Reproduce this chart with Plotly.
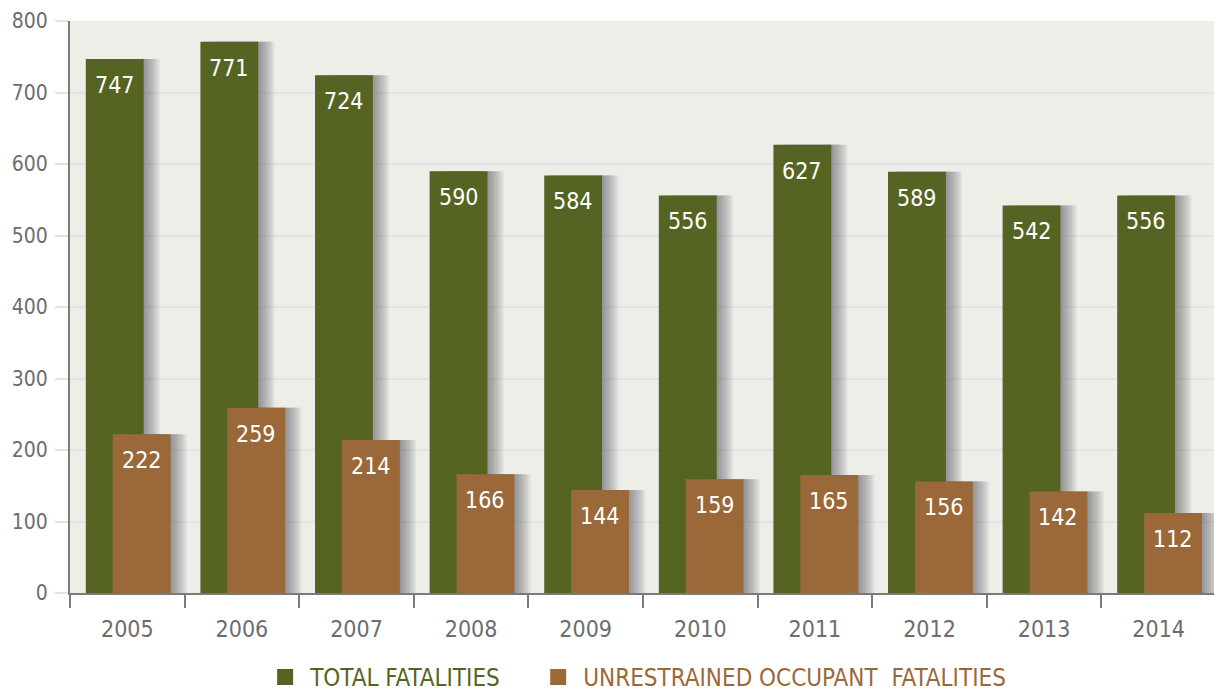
import plotly.graph_objects as go

years = ["2005", "2006", "2007", "2008", "2009", "2010", "2011", "2012", "2013", "2014"]
total = [747, 771, 724, 590, 584, 556, 627, 589, 542, 556]
unrestrained = [222, 259, 214, 166, 144, 159, 165, 156, 142, 112]

GREEN = "#566423"
BROWN = "#9b683a"
FONT = "'Liberation Sans Narrow', 'DejaVu Sans Condensed', Roboto, sans-serif"

FIG_W, FIG_H = 1214, 688   # page body adds an 8px margin
ML, MR, MT, MB = 62, 6, 13, 103

W = 0.505
G_OFF = -0.362
B_OFF = -0.127
CAT_PX = (FIG_W - ML - MR) / 10.0

fig = go.Figure()

def shadow(vals, off):
    for k in range(7):
        fig.add_trace(go.Bar(
            x=years, y=vals, width=W, offset=off + 0.02 * (k + 1),
            marker=dict(color="rgba(70,70,80,0.095)", line_width=0),
            hoverinfo="skip", showlegend=False,
        ))

shadow(total, G_OFF)
fig.add_trace(go.Bar(
    x=years, y=total, width=W, offset=G_OFF, name="TOTAL FATALITIES",
    marker=dict(color=GREEN, line_width=0), showlegend=False,
))
shadow(unrestrained, B_OFF)
fig.add_trace(go.Bar(
    x=years, y=unrestrained, width=W, offset=B_OFF, name="UNRESTRAINED OCCUPANT FATALITIES",
    marker=dict(color=BROWN, line_width=0), showlegend=False,
))

# legend entries
fig.add_trace(go.Scatter(
    x=[None], y=[None], mode="markers",
    marker=dict(symbol="square", size=24, color=GREEN),
    name=f'<span style="color:{GREEN}">TOTAL FATALITIES</span>&nbsp;&nbsp;&nbsp;&nbsp;',
))
fig.add_trace(go.Scatter(
    x=[None], y=[None], mode="markers",
    marker=dict(symbol="square", size=24, color=BROWN),
    name=f'<span style="color:{BROWN}">UNRESTRAINED OCCUPANT&nbsp; FATALITIES</span>',
))

# value labels (category axis positions given as serial numbers)
for vals, off in ((total, G_OFF), (unrestrained, B_OFF)):
    shift = (off + W / 2) * CAT_PX
    for i, v in enumerate(vals):
        fig.add_annotation(
            x=i, y=v, xref="x", yref="y", text=str(v), showarrow=False,
            xshift=shift, yshift=-26, yanchor="middle", xanchor="center",
            font=dict(color="white", size=23, family=FONT),
        )

fig.update_layout(
    width=FIG_W, height=FIG_H,
    barmode="overlay",
    paper_bgcolor="white",
    plot_bgcolor="#edeee8",
    margin=dict(l=ML, r=MR, t=MT, b=MB, autoexpand=False),
    font=dict(family=FONT, color="#6d6d6d", size=23),
    showlegend=True,
    legend=dict(orientation="h", x=0.517, xanchor="center", xref="container",
                y=0.027, yref="container", yanchor="middle",
                font=dict(size=24, family=FONT), itemwidth=40,
                traceorder="normal", itemsizing="trace"),
)
fig.update_xaxes(
    type="category", showgrid=False, showline=True, linecolor="#7a7a7a", linewidth=2,
    ticks="outside", tickson="boundaries", ticklen=13, tickwidth=2, tickcolor="#7a7a7a",
    tickfont=dict(size=23, color="#6d6d6d"), range=[-0.5, 9.5],
    ticklabelstandoff=14, automargin=False,
)
fig.update_yaxes(
    range=[0, 800], dtick=100, showgrid=True, gridcolor="#e2e2ea", gridwidth=2,
    showline=True, linecolor="#7a7a7a", linewidth=2, zeroline=False,
    ticks="outside", ticklen=13, tickcolor="#e2e2ea", tickwidth=2, ticklabelstandoff=3,
    tickfont=dict(size=21, color="#6d6d6d"), automargin=False,
    ticklabeloverflow="allow",
)

fig.write_html("out.html")
